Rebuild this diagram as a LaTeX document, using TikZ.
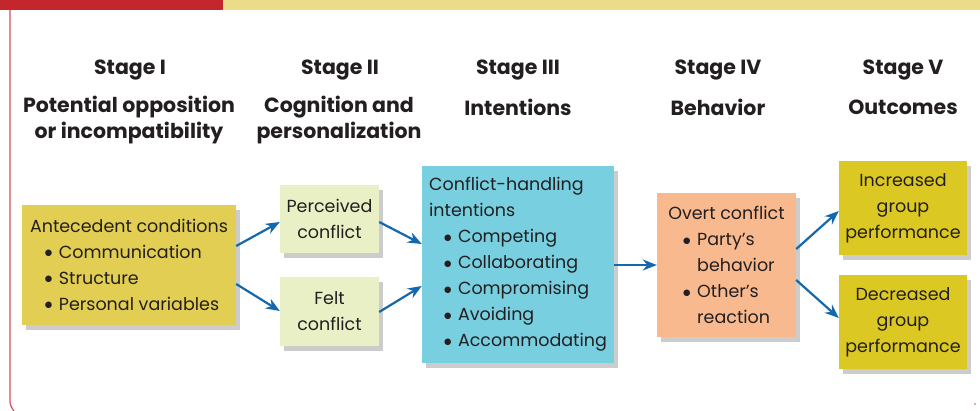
\documentclass[tikz,border=0pt]{standalone}
\usepackage{fontspec}
\setmainfont{Poppins}
\newfontfamily\dvs{DejaVu Sans}
\usetikzlibrary{shadows,arrows.meta}
\definecolor{topred}{HTML}{C4262E}
\definecolor{topyel}{HTML}{EBDC8A}
\definecolor{frame}{HTML}{D5505A}
\definecolor{txt}{HTML}{231F20}
\definecolor{antec}{HTML}{E2CE52}
\definecolor{lightg}{HTML}{EAF0C6}
\definecolor{cyanb}{HTML}{78CFE0}
\definecolor{peach}{HTML}{F8B98E}
\definecolor{outc}{HTML}{DCC823}
\definecolor{arr}{HTML}{1468AE}
\newcommand\bul{\hspace*{0.85em}\makebox[0.8em][l]{\raisebox{2.6pt}{\dvs\fontsize{8.5}{8.5}\selectfont ●}}}
\newcommand\cont{\hspace*{1.65em}}
\tikzset{
  box/.style={inner sep=0pt, align=left, text=txt, font=\fontsize{17.5}{26}\selectfont,
    drop shadow={opacity=0.4, shadow xshift=4pt, shadow yshift=-5pt}},
  cbox/.style={box, align=center},
  head/.style={text=txt, font=\fontsize{20.5}{26}\selectfont\bfseries, align=center, inner sep=0pt},
  conn/.style={draw=arr, line width=2.2pt, -{Stealth[length=14pt,width=11pt]}}
}
\begin{document}
\begin{tikzpicture}[x=1pt,y=-1pt]
\useasboundingbox (0,0) rectangle (980,410);
\fill[white] (0,0) rectangle (980,410);
\fill[topred] (0,0) rectangle (223,10);
\fill[topyel] (223,0) rectangle (980,10);
\draw[frame, line width=1.2pt] (10,10) -- (10,398) .. controls (10,405) .. (14,411);
\fill[frame] (975,404) circle (0.8);
% headers
\node[head] (h1a) at (130,70) {Stage I};
\node[head] (h1b) at (129,120) {Potential opposition\\or incompatibility};
\node[head] (h2a) at (340,70) {Stage II};
\node[head] (h2b) at (339,120) {Cognition and\\personalization};
\node[head] (h3a) at (518,70) {Stage III};
\node[head] (h3b) at (518,107) {Intentions};
\node[head] (h4a) at (718,70) {Stage IV};
\node[head] (h4b) at (718,107) {Behavior};
\node[head] (h5a) at (903,70) {Stage V};
\node[head] (h5b) at (903,107) {Outcomes};
% boxes
\node[box, fill=antec, minimum width=214, minimum height=120] (ant) at (129,265)
  {Antecedent conditions\\\bul Communication\\\bul Structure\\\bul Personal variables};
\node[cbox, fill=lightg, minimum width=99, minimum height=68] (per) at (329.5,219)
  {Perceived\\conflict};
\node[cbox, fill=lightg, minimum width=99, minimum height=69] (felt) at (329.5,311.5)
  {Felt\\conflict};
\node[box, fill=cyanb, minimum width=192, minimum height=197] (int) at (518,264.5)
  {Conflict-handling\\intentions\\\bul Competing\\\bul Collaborating\\\bul Compromising\\\bul Avoiding\\\bul Accommodating};
\node[box, fill=peach, minimum width=139, minimum height=144] (ovt) at (726.5,265)
  {Overt conflict\\\bul Party’s\\\cont behavior\\\bul Other’s\\\cont reaction};
\node[cbox, fill=outc, minimum width=128, minimum height=94] (inc) at (903,208)
  {Increased\\group\\performance};
\node[cbox, fill=outc, minimum width=128, minimum height=94] (dec) at (903,322)
  {Decreased\\group\\performance};
% connectors
\draw[conn] (ant.east |- 0,246) -- (per.west |- 0,222);
\draw[conn] (ant.east |- 0,284) -- (felt.west |- 0,311);
\draw[conn] (per.east |- 0,222) -- (int.west |- 0,244);
\draw[conn] (felt.east |- 0,312) -- (int.west |- 0,286);
\draw[conn] (int.east |- 0,265) -- (ovt.west |- 0,265);
\draw[conn] (ovt.east |- 0,249) -- (inc.west |- 0,211);
\draw[conn] (ovt.east |- 0,280) -- (dec.west |- 0,318);
\end{tikzpicture}
\end{document}
